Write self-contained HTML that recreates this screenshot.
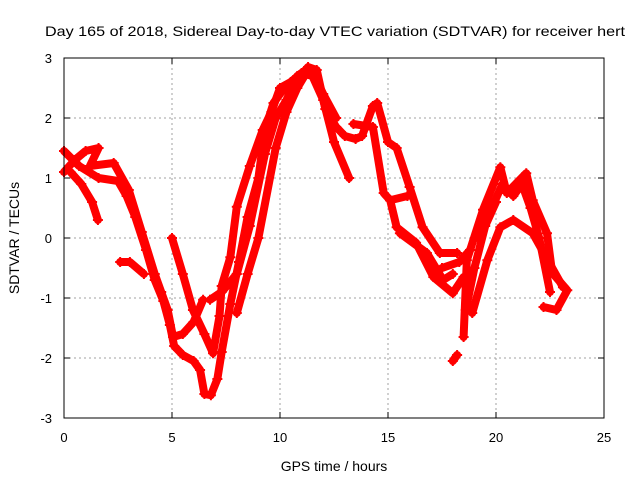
<!DOCTYPE html>
<html><head><meta charset="utf-8"><style>
html,body{margin:0;padding:0;background:#fff}
svg{display:block;font-family:"Liberation Sans",sans-serif}
</style></head><body>
<svg id="chart" width="640" height="480" viewBox="0 0 640 480">
<text x="45" y="36" font-size="14" textLength="580" lengthAdjust="spacingAndGlyphs">Day 165 of 2018, Sidereal Day-to-day VTEC variation (SDTVAR) for receiver hert</text>
<g id="grid"></g>
<g id="series"></g>
<rect x="64" y="58" width="540" height="360" fill="none" stroke="#000" stroke-width="1"/>
<g id="axes"></g>
<text x="334" y="471" font-size="14" text-anchor="middle">GPS time / hours</text>
<text transform="translate(19,238) rotate(-90)" font-size="14" text-anchor="middle">SDTVAR / TECUs</text>
</svg>
<script>
const xTicks=[0,5,10,15,20,25];
const yTicks=[-3,-2,-1,0,1,2,3];
const track1=[[0,1.45],[0.7,1.2],[1.6,1.0],[2.5,0.95],[2.9,0.7],[3.3,0.35],[3.8,-0.2],[4.2,-0.7],[4.6,-1.05],[4.9,-1.45],[5.1,-1.8],[5.5,-1.95],[6.0,-2.05],[6.3,-2.2],[6.5,-2.6],[6.8,-2.62],[7.1,-2.35],[7.3,-1.9],[7.7,-1.1],[8.1,-0.4],[8.5,0.35],[9.0,1.0],[9.3,1.8],[9.7,2.25],[10.1,2.45],[10.7,2.6],[11.3,2.85],[11.7,2.8],[12.1,2.15],[12.6,1.85],[13.0,1.7],[13.5,1.65],[13.8,1.7],[14.3,2.2],[14.5,2.25],[15.0,1.6],[15.4,1.5],[16.0,0.85],[16.6,0.18],[17.4,-0.25],[18.2,-0.25]];
const track2=[[0,1.1],[0.5,1.3],[1.0,1.45],[1.6,1.5],[1.2,1.2],[2.3,1.25],[3.0,0.8],[3.6,0.1],[4.2,-0.6],[4.5,-0.9],[4.8,-1.2],[5.05,-1.65],[5.5,-1.6],[6.0,-1.4],[6.44,-1.03]];
const track3=[[0.3,1.1],[0.8,0.9],[1.3,0.6],[1.57,0.3]];
const track4=[[2.6,-0.4],[3.05,-0.4],[3.7,-0.6]];
const track5=[[5.0,0.0],[5.5,-0.6],[5.97,-1.2],[6.5,-1.6],[6.9,-1.92],[7.2,-1.3],[7.3,-0.8],[7.7,-0.32],[8.0,0.52],[8.6,1.2],[9.2,1.8],[9.6,2.1],[10.0,2.5],[10.5,2.6],[11.0,2.75],[11.5,2.7],[12.0,2.3],[12.5,1.6],[13.2,1.0]];
const track6=[[6.76,-1.03],[7.3,-0.9],[8.0,-0.6],[8.6,0.2],[9.3,1.4],[9.8,2.0],[10.3,2.3],[10.8,2.7],[11.2,2.8],[11.6,2.7],[12.0,2.4],[12.6,2.0]];
const track7=[[8.0,-1.25],[8.5,-0.6],[9.0,0.0],[9.8,1.5],[10.3,2.1],[10.8,2.5],[11.3,2.8]];
const track8=[[13.4,1.9],[14.3,1.85],[14.8,0.75],[15.1,0.63],[15.4,0.18],[16.3,-0.08],[17.1,-0.65],[18.0,-0.92],[18.5,-0.65]];
const track9=[[15.1,0.63],[15.9,0.7]];
const track10=[[15.55,0.08],[16.8,-0.25],[17.55,-0.7],[18.0,-0.6]];
const track11=[[18.5,-1.65],[18.65,-0.37],[19.4,0.47],[20.2,1.18],[20.5,0.75],[21.4,1.08],[21.7,0.63],[22.36,0.08],[22.6,-0.58],[23.3,-0.87],[22.8,-1.2],[22.2,-1.15]];
const track12=[[18.9,-1.25],[19.6,-0.37],[20.2,0.18],[20.8,0.3],[21.7,0.08],[22.4,-0.37],[23.1,-0.82]];
const track13=[[18.0,-2.05],[18.2,-1.95]];
const track14=[[19.2,0.0],[19.8,0.5],[20.3,0.9],[20.8,0.7],[21.2,0.9],[21.6,0.5],[22.0,0.0],[22.5,-0.9]];
const track15=[[17.5,-0.5],[18.3,-0.4],[18.8,-0.2]];
const track16=[[18.6,-1.2],[19.0,-0.5],[19.5,0.2],[20.0,0.6]];
const tracks=[track1,track2,track3,track4,track5,track6,track7,track8,track9,track10,track11,track12,track13,track14,track15,track16];

const NS="http://www.w3.org/2000/svg";
const X0=64,X1=604,Y0=418,Y1=58;
function xs(v){return X0+(v-0)/(25-0)*(X1-X0);}
function ys(v){return Y0-(v+3)/6*(Y0-Y1);}
function mk(tag,attrs,parent){const e=document.createElementNS(NS,tag);for(const k in attrs)e.setAttribute(k,attrs[k]);parent.appendChild(e);return e;}
const grid=document.getElementById('grid'),axes=document.getElementById('axes'),series=document.getElementById('series');
xTicks.forEach(t=>{
  const x=xs(t);
  if(t>0&&t<25){const g=mk('line',{x1:x,x2:x,y1:Y1,y2:Y0,stroke:'#a0a0a0','stroke-dasharray':'2,3'},grid);
  
  }
  mk('line',{x1:x,x2:x,y1:Y0,y2:Y0-6,stroke:'#000'},axes);
  mk('line',{x1:x,x2:x,y1:Y1,y2:Y1+6,stroke:'#000'},axes);
  const tx=mk('text',{x:x,y:442,'font-size':13,'text-anchor':'middle'},axes);
  tx.textContent=t;
  
  
});
yTicks.forEach(t=>{
  const y=ys(t);
  if(t>-3&&t<3){const g=mk('line',{x1:X0,x2:X1,y1:y,y2:y,stroke:'#a0a0a0','stroke-dasharray':'2,3'},grid);
  
  }
  mk('line',{x1:X0,x2:X0+6,y1:y,y2:y,stroke:'#000'},axes);
  mk('line',{x1:X1,x2:X1-6,y1:y,y2:y,stroke:'#000'},axes);
  const tx=mk('text',{x:52,y:y+5,'font-size':13,'text-anchor':'end'},axes);
  tx.textContent=t;
  
  
});
tracks.forEach(tr=>{
  const pts=tr.map(p=>xs(p[0])+','+ys(p[1])).join(' ');
  const pl=mk('polyline',{points:pts,fill:'none',stroke:'#ff0000','stroke-width':8,'stroke-linejoin':'round','stroke-linecap':'round'},series);
  
  
  tr.forEach(p=>{
    const x=xs(p[0]),y=ys(p[1]);
    const m=mk('path',{d:`M${x-5},${y}H${x+5}M${x},${y-5}V${y+5}`,stroke:'#ff0000','stroke-width':2},series);
    
    
  });
});
</script>
</body></html>
